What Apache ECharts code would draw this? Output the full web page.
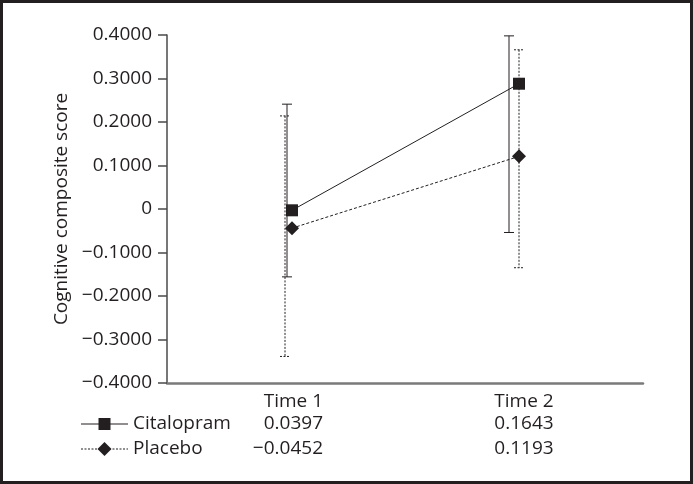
<!DOCTYPE html>
<html>
<head>
<meta charset="utf-8">
<script src="https://cdn.jsdelivr.net/npm/echarts@6/dist/echarts.min.js"></script>
<style>
  html, body { margin: 0; padding: 0; background: #fff; }
  #main { width: 693px; height: 484px; }
</style>
</head>
<body>
<div id="main"></div>
<script>
// values
const times = ['Time 1', 'Time 2'];
const citalopramMean = [-0.003, 0.288];
const citalopramLow = [-0.156, -0.054];
const citalopramHigh = [0.241, 0.398];
const placeboMean = [-0.044, 0.121];
const placeboLow = [-0.339, -0.135];
const placeboHigh = [0.214, 0.366];
// numbers printed in the table under the plot
const citalopramTable = ['0.0397', '0.1643'];
const placeboTable = ['\u22120.0452', '0.1193'];

const ink = '#231f20';
const font = 'Open Sans';
const fsize = 19;
// small horizontal nudges (px) used in the original drawing
const markShift = [6, -5];
const citBarShift = [1, -15];
const placBarShift = [-1, -5];

let chart = echarts.init(document.getElementById('main'));

function errorBar(shift, dash) {
  return function (params, api) {
    const i = api.value(0);
    const top = api.coord([i, api.value(2)]);
    const bot = api.coord([i, api.value(1)]);
    const x = top[0] + shift[params.dataIndex];
    const style = { stroke: ink, lineWidth: 1, lineDash: dash };
    return {
      type: 'group',
      children: [
        { type: 'line', shape: { x1: x, y1: top[1], x2: x, y2: bot[1] }, style: style },
        { type: 'line', shape: { x1: x - 5, y1: top[1], x2: x + 5, y2: top[1] }, style: style },
        { type: 'line', shape: { x1: x - 5, y1: bot[1], x2: x + 5, y2: bot[1] }, style: style }
      ]
    };
  };
}

function meanLine(means, symbol, dash) {
  return function (params, api) {
    const i = params.dataIndex;
    const p = api.coord([api.value(0), api.value(1)]);
    const x = p[0] + markShift[i];
    const children = [];
    if (i < means.length - 1) {
      const q = api.coord([i + 1, means[i + 1]]);
      children.push({
        type: 'line',
        shape: { x1: x, y1: p[1], x2: q[0] + markShift[i + 1], y2: q[1] },
        style: { stroke: ink, lineWidth: 1, lineDash: dash }
      });
    }
    if (symbol === 'square') {
      children.push({ type: 'rect', z2: 10, shape: { x: x - 6, y: p[1] - 6, width: 12, height: 12 }, style: { fill: ink } });
    } else {
      children.push({
        type: 'polygon', z2: 10,
        shape: { points: [[x, p[1] - 7], [x + 7, p[1]], [x, p[1] + 7], [x - 7, p[1]]] },
        style: { fill: ink }
      });
    }
    return { type: 'group', children: children };
  };
}

function txt(text, x, y, align) {
  return {
    type: 'text', x: x, y: y,
    style: { text: text, fill: ink, font: fsize + 'px "' + font + '"', textAlign: align, textVerticalAlign: 'middle' }
  };
}

let option = {
  animation: false,
  grid: { left: 167, right: 50, top: 35, bottom: 101 },
  xAxis: {
    type: 'category',
    data: times,
    axisLine: { onZero: false, lineStyle: { color: '#7a7a7a', width: 2.5 } },
    axisTick: { show: false },
    axisLabel: { show: false }
  },
  yAxis: {
    type: 'value',
    min: -0.4,
    max: 0.4,
    interval: 0.1,
    axisLine: { show: true, lineStyle: { color: '#4a4a4a', width: 1.5 } },
    axisTick: { show: true, length: 9, lineStyle: { color: '#4a4a4a', width: 1.5 } },
    splitLine: { show: false },
    axisLabel: {
      margin: 15,
      color: ink,
      fontFamily: font,
      fontSize: fsize,
      formatter: function (v) {
        if (Math.abs(v) < 1e-9) return '0';
        return (v < 0 ? '\u2212' : '') + Math.abs(v).toFixed(4);
      }
    }
  },
  series: [
    {
      type: 'custom',
      renderItem: errorBar(placBarShift, [2, 1.5]),
      data: times.map((t, i) => [i, placeboLow[i], placeboHigh[i]])
    },
    {
      type: 'custom',
      renderItem: errorBar(citBarShift, null),
      data: times.map((t, i) => [i, citalopramLow[i], citalopramHigh[i]])
    },
    {
      type: 'custom',
      renderItem: meanLine(placeboMean, 'diamond', [3, 2]),
      data: times.map((t, i) => [i, placeboMean[i]])
    },
    {
      type: 'custom',
      renderItem: meanLine(citalopramMean, 'square', null),
      data: times.map((t, i) => [i, citalopramMean[i]])
    }
  ],
  graphic: [
    { type: 'rect', shape: { x: 1.5, y: 1.5, width: 690, height: 481 }, style: { fill: null, stroke: ink, lineWidth: 3 } },
    {
      type: 'text', x: 62, y: 209, rotation: Math.PI / 2,
      style: { text: 'Cognitive composite score', fill: ink, font: fsize + 'px "' + font + '"', textAlign: 'center', textVerticalAlign: 'middle' }
    },
    // table under the plot
    txt(times[0], 323, 402, 'right'),
    txt(times[1], 524, 402, 'center'),
    { type: 'line', shape: { x1: 81, y1: 424, x2: 128, y2: 424 }, style: { stroke: ink, lineWidth: 1.2 } },
    { type: 'rect', shape: { x: 98.5, y: 418, width: 12, height: 12 }, style: { fill: ink } },
    txt('Citalopram', 133, 424, 'left'),
    txt(citalopramTable[0], 323, 424, 'right'),
    txt(citalopramTable[1], 524, 424, 'center'),
    { type: 'line', shape: { x1: 81, y1: 449, x2: 128, y2: 449 }, style: { stroke: ink, lineWidth: 1, lineDash: [2, 1.5] } },
    { type: 'polygon', shape: { points: [[104.5, 442], [111.5, 449], [104.5, 456], [97.5, 449]] }, style: { fill: ink } },
    txt('Placebo', 133, 449, 'left'),
    txt(placeboTable[0], 323, 449, 'right'),
    txt(placeboTable[1], 524, 449, 'center')
  ]
};

chart.setOption(option);
</script>
</body>
</html>
